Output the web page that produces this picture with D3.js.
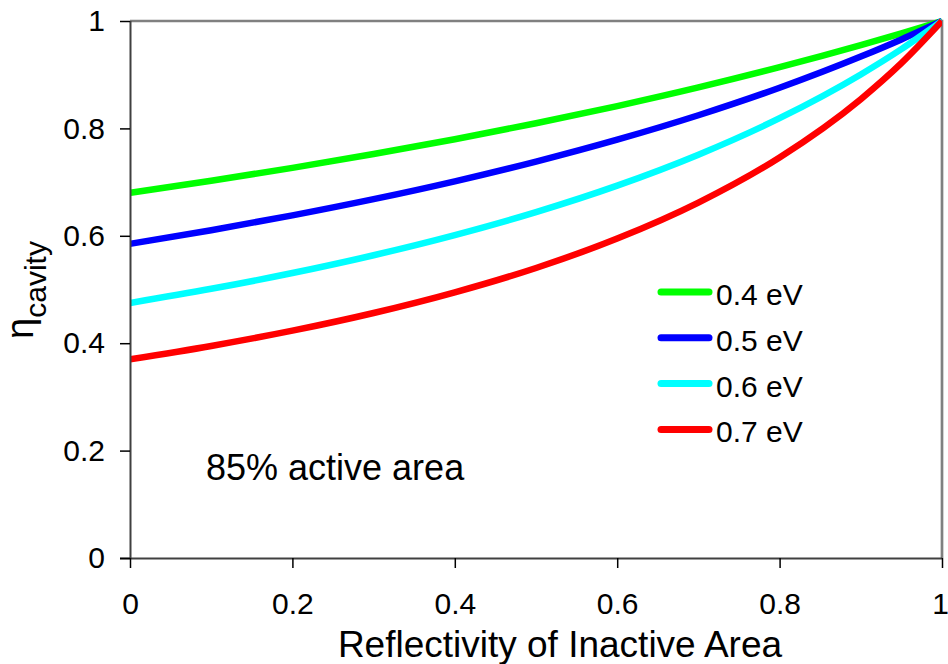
<!DOCTYPE html>
<html><head><meta charset="utf-8">
<script src="https://cdn.jsdelivr.net/npm/d3@7"></script>
<style>
body{margin:0;background:#fff;}
svg text{font-family:"Liberation Sans",Arial,sans-serif;fill:#000;}
</style></head>
<body><svg id="c" width="948" height="664"></svg>
<script>
const reflectivity = [0,0.1,0.2,0.3,0.4,0.5,0.6,0.7,0.8,0.9,0.95,1];
const seriesNames = ["0.4 eV","0.5 eV","0.6 eV","0.7 eV"];
const eta04 = [0.680,0.7025,0.7265,0.7522,0.7798,0.8095,0.8416,0.8763,0.9140,0.9551,0.977,1];
const eta05 = [0.585,0.6103,0.6380,0.6682,0.7014,0.7382,0.7790,0.8245,0.8757,0.9338,0.9657,1];
const eta06 = [0.475,0.5013,0.5307,0.5638,0.6013,0.6441,0.6934,0.7510,0.8190,0.9005,0.9476,1];
const eta07 = [0.370,0.3949,0.4233,0.4562,0.4947,0.5401,0.5949,0.6619,0.7460,0.8545,0.9215,1];
const seriesColors = ["#00ff00","#0000ff","#00ffff","#ff0000"];
const xTicks = [0,0.2,0.4,0.6,0.8,1];
const xTickLabels = ["0","0.2","0.4","0.6","0.8","1"];
const yTicks = [0,0.2,0.4,0.6,0.8,1];
const yTickLabels = ["0","0.2","0.4","0.6","0.8","1"];

const svg = d3.select("#c");
const L=130, R=942, T=21, B=558;
const x = d3.scaleLinear().domain([0,1]).range([L,R]);
const y = d3.scaleLinear().domain([0,1]).range([B,T]);

// border top/right
svg.append("path").attr("d",`M${L},${T}H${R}V${B}`).attr("fill","none")
  .attr("stroke","#808080").attr("stroke-width",2.7);

svg.append("defs").append("clipPath").attr("id","pc")
  .append("rect").attr("x",L).attr("y",T-6).attr("width",R-L).attr("height",B-T+12);

const series = [eta04,eta05,eta06,eta07];
const line = d3.line().x((d,i)=>x(reflectivity[i])).y(d=>y(d)).curve(d3.curveMonotoneX);
const g = svg.append("g").attr("clip-path","url(#pc)");
series.forEach((s,k)=>{
  g.append("path").datum(s).attr("d",line).attr("fill","none")
   .attr("stroke",seriesColors[k]).attr("stroke-width",6.5).attr("stroke-linejoin","round");
});

// axes
const xa = svg.append("g").attr("transform",`translate(0,${B})`)
  .call(d3.axisBottom(x).tickValues(xTicks).tickFormat((d,i)=>xTickLabels[i]).tickSize(10).tickPadding(25));
const ya = svg.append("g").attr("transform",`translate(${L},0)`)
  .call(d3.axisLeft(y).tickValues(yTicks).tickFormat((d,i)=>yTickLabels[i]).tickSize(10).tickPadding(15));
[xa,ya].forEach(a=>{
  a.select(".domain").attr("stroke","#404040").attr("stroke-width",2);
  a.selectAll(".tick line").attr("stroke","#000").attr("stroke-width",1.5);
  a.selectAll(".tick text").style("font-size","30px").attr("fill","#000");
});
xa.select(".domain").attr("d",`M${L-10},0.5H${R}`);
ya.select(".domain").attr("d",`M0.5,${B}V${T}`);
xa.selectAll(".tick text").filter((d)=>d===1).attr("dx",-2);

// axis titles
svg.append("text").attr("x",560).attr("y",657).attr("text-anchor","middle")
  .style("font-size","37px").text("Reflectivity of Inactive Area");
const yt = svg.append("text").attr("transform","translate(33,290) rotate(-90)")
  .attr("text-anchor","middle");
yt.append("tspan").style("font-size","38px").text("η");
yt.append("tspan").style("font-size","30px").attr("dy",13).text("cavity");

// annotation
svg.append("text").attr("x",206).attr("y",480).style("font-size","36px").text("85% active area");

// legend
const leg = svg.append("g");
seriesNames.forEach((n,k)=>{
  const ly = 292 + k*45.8;
  leg.append("line").attr("x1",661).attr("x2",709).attr("y1",ly).attr("y2",ly)
    .attr("stroke",seriesColors[k]).attr("stroke-width",7).attr("stroke-linecap","round");
  leg.append("text").attr("x",716).attr("y",ly+13).style("font-size","30px").text(n);
});
</script></body></html>
